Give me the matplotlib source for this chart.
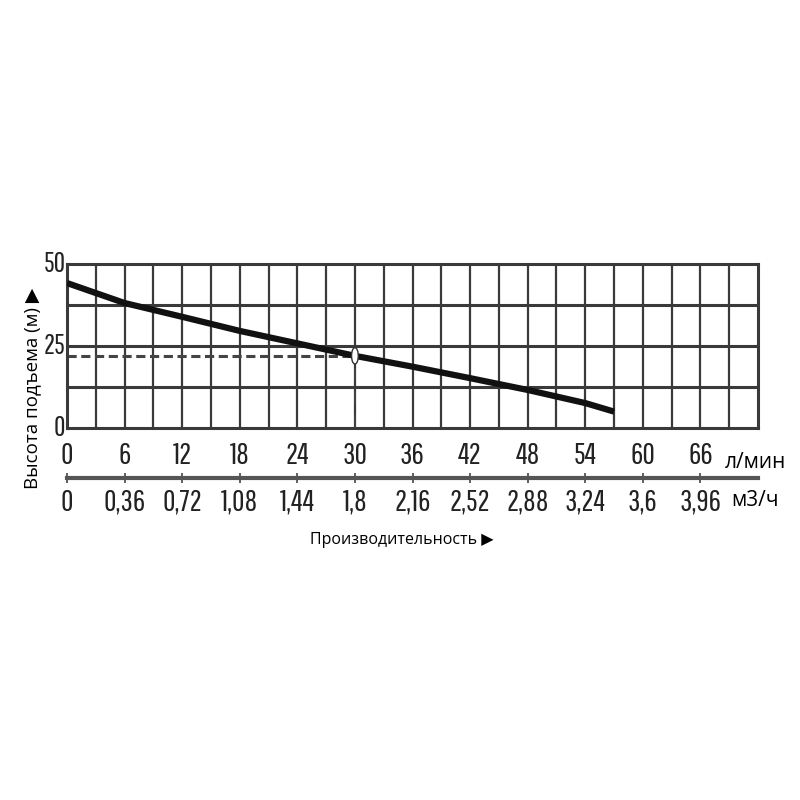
import matplotlib
matplotlib.use("Agg")
import matplotlib.pyplot as plt
from matplotlib import font_manager
from matplotlib.patches import Ellipse

# Data
flow_lpm = [0, 6, 12, 18, 24, 30, 36, 42, 48, 54, 57]
head_m = [44.2, 38.1, 33.9, 29.6, 25.8, 22.0, 18.7, 15.2, 11.6, 7.6, 5.0]
op_flow = 30
op_head = 22.0
x_ticks_lpm = [0, 6, 12, 18, 24, 30, 36, 42, 48, 54, 60, 66]
x_labels_m3h = ["0", "0,36", "0,72", "1,08", "1,44", "1,8", "2,16", "2,52", "2,88", "3,24", "3,6", "3,96"]
y_ticks = [0, 25, 50]

names = {f.name for f in font_manager.fontManager.ttflist}
narrow = "DejaVu Sans"
for cand in ["Pathway Gothic One", "Sofia Sans Extra Condensed", "Roboto Condensed"]:
    if cand in names:
        narrow = cand
        break
plain = "Open Sans" if "Open Sans" in names else "DejaVu Sans"

fig = plt.figure(figsize=(8, 8), dpi=100)
L, W = 67/800, 691/800
ax = fig.add_axes([L, 1-428/800, W, 164/800])
gc = "#3a3a3a"
ax.set_xlim(0, 72)
ax.set_ylim(0, 50)
for xv in range(3, 72, 3):
    ax.axvline(xv, color=gc, lw=1.6, zorder=1)
for yv in [12.5, 25, 37.5]:
    ax.axhline(yv, color=gc, lw=2.2, zorder=1)
for s in ax.spines.values():
    s.set_color(gc)
    s.set_linewidth(2.2)

ax.plot(flow_lpm, head_m, color="#111111", lw=4.5, solid_capstyle="butt",
        solid_joinstyle="round", zorder=3)
ax.plot([0, op_flow], [op_head, op_head], color="#444444", lw=2.2, ls=(0, (3, 1.5)), zorder=2)
ax.plot([op_flow, op_flow], [0, op_head], color="#444444", lw=1.2, ls=(0, (8, 6)), zorder=2)
ax.add_patch(Ellipse((op_flow, op_head), width=0.7, height=5.0, facecolor="white",
                     edgecolor="#333333", lw=1, zorder=4))

ax.set_xticks(x_ticks_lpm)
ax.set_xticklabels([str(v) for v in x_ticks_lpm], fontfamily=narrow, fontsize=22, color="#222222")
ax.tick_params(axis="x", length=0, pad=20)
for lab in ax.get_xticklabels():
    lab.set_verticalalignment("center")
ax.set_yticks(y_ticks)
ax.set_yticklabels([str(v) for v in y_ticks], fontfamily=narrow, fontsize=20, color="#222222")
ax.tick_params(axis="y", length=0, pad=1)
for lab in ax.get_yticklabels():
    lab.set_verticalalignment("center")

# second axis (m3/h)
ax2 = fig.add_axes([L, 1-478/800, W, 0.0001])
ax2.set_xlim(0, 72)
for k in ["top", "left", "right"]:
    ax2.spines[k].set_visible(False)
ax2.spines["bottom"].set_color("#555555")
ax2.spines["bottom"].set_linewidth(3)
ax2.set_yticks([])
ax2.set_xticks(x_ticks_lpm)
ax2.set_xticklabels(x_labels_m3h, fontfamily=narrow, fontsize=22, color="#222222")
ax2.tick_params(axis="x", direction="inout", length=7, width=1.2, color="#444444", pad=14)
for lab in ax2.get_xticklabels():
    lab.set_verticalalignment("center")
ax2.patch.set_visible(False)

fig.text(725/800, 1-462/800, "л/мин", fontfamily=plain, fontsize=15, ha="left", va="center")
fig.text(731/800, 1-500/800, "м3/ч", fontfamily=plain, fontsize=15, ha="left", va="center")
fig.text(402/800, 1-540/800, "Производительность ▶", fontfamily=[plain, "DejaVu Sans"],
         fontsize=11.5, ha="center", va="center")
fig.text(32/800, 1-388/800, "Высота подъема (м) ▶", fontfamily=[plain, "DejaVu Sans"],
         fontsize=13.5, ha="center", va="center", rotation=90)

fig.savefig("out.png", dpi=100, facecolor="white")
